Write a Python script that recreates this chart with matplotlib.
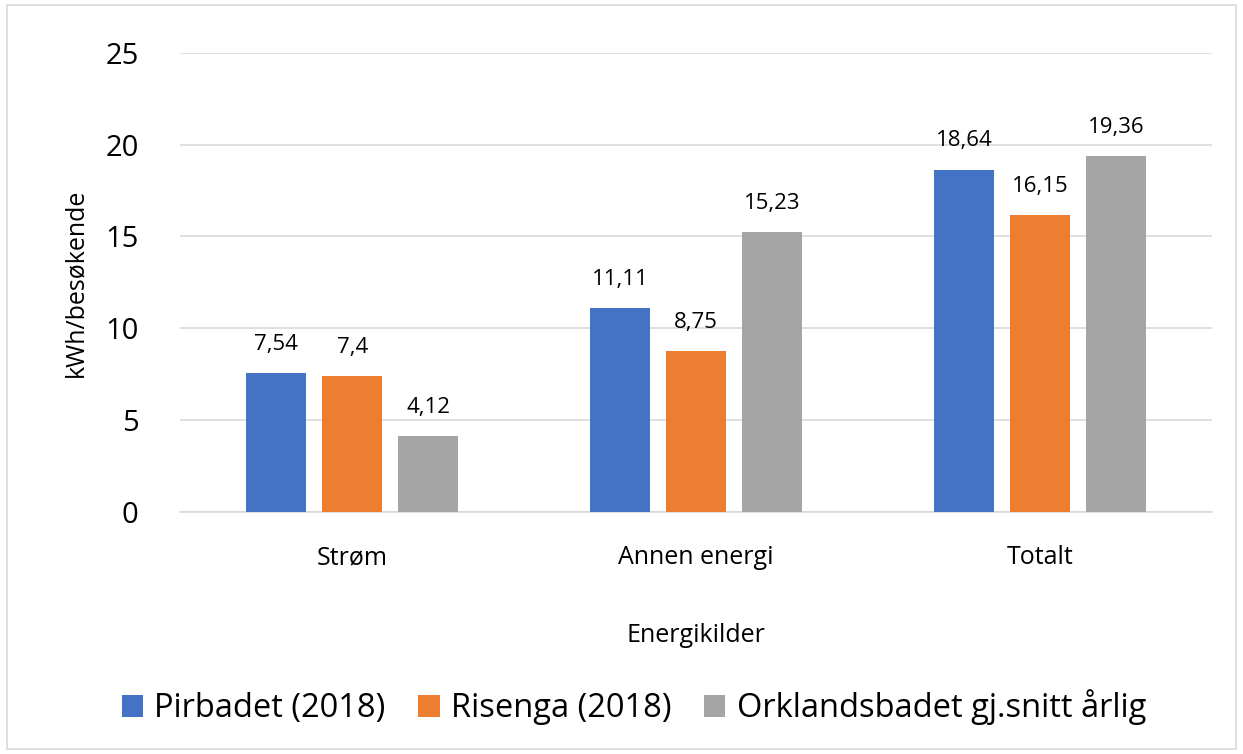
import matplotlib
matplotlib.use("Agg")
import matplotlib.pyplot as plt
import numpy as np
from matplotlib.patches import Rectangle

categories = ["Strøm", "Annen energi", "Totalt"]
series_names = ["Pirbadet (2018)", "Risenga (2018)", "Orklandsbadet gj.snitt årlig"]
pirbadet = [7.54, 11.11, 18.64]
risenga = [7.4, 8.75, 16.15]
orkland = [4.12, 15.23, 19.36]
colors = ["#4472C4", "#ED7D31", "#A5A5A5"]

plt.rcParams['font.family'] = ['Open Sans', 'DejaVu Sans']

fig = plt.figure(figsize=(12.43, 7.54), dpi=100)
ax = fig.add_axes([0.145, 0.321, 0.83, 0.609])

x = np.arange(len(categories))
w = 0.174
off = 0.221
for i, (vals, name, c) in enumerate(zip([pirbadet, risenga, orkland], series_names, colors)):
    bars = ax.bar(x + (i - 1) * off, vals, width=w, color=c, label=name, zorder=3)
    for b, v in zip(bars, vals):
        ax.text(b.get_x() + b.get_width() / 2, v + 1.0, f"{v:g}".replace('.', ','),
                ha='center', va='bottom', fontsize=16, color='#000000')

ax.set_xlim(-0.5, 2.5)
ax.set_ylim(0, 25)
ax.set_yticks([0, 5, 10, 15, 20, 25])
ax.tick_params(axis='y', labelsize=21, length=0, pad=30)
ax.set_xticks(x)
ax.set_xticklabels(categories, fontsize=18)
ax.tick_params(axis='x', length=0, pad=24)
ax.grid(axis='y', color='#D9D9D9', linewidth=1.2, zorder=0)
for s in ['top', 'right', 'left']:
    ax.spines[s].set_visible(False)
ax.spines['bottom'].set_color('#D9D9D9')
ax.spines['bottom'].set_linewidth(1.2)

ax.set_ylabel("kWh/besøkende", fontsize=18, labelpad=12)
ax.set_xlabel("Energikilder", fontsize=18, labelpad=38)

fig.legend(loc='center', bbox_to_anchor=(0.51, 0.062), ncol=3, fontsize=23.5,
           frameon=False, handlelength=0.65, handleheight=0.65, columnspacing=1.0,
           handletextpad=0.35)

fig.patches.append(Rectangle((0.006, 0.007), 0.988, 0.986, transform=fig.transFigure,
                             fill=False, edgecolor='#D9D9D9', linewidth=1.2))

fig.savefig("out.png", dpi=100)
